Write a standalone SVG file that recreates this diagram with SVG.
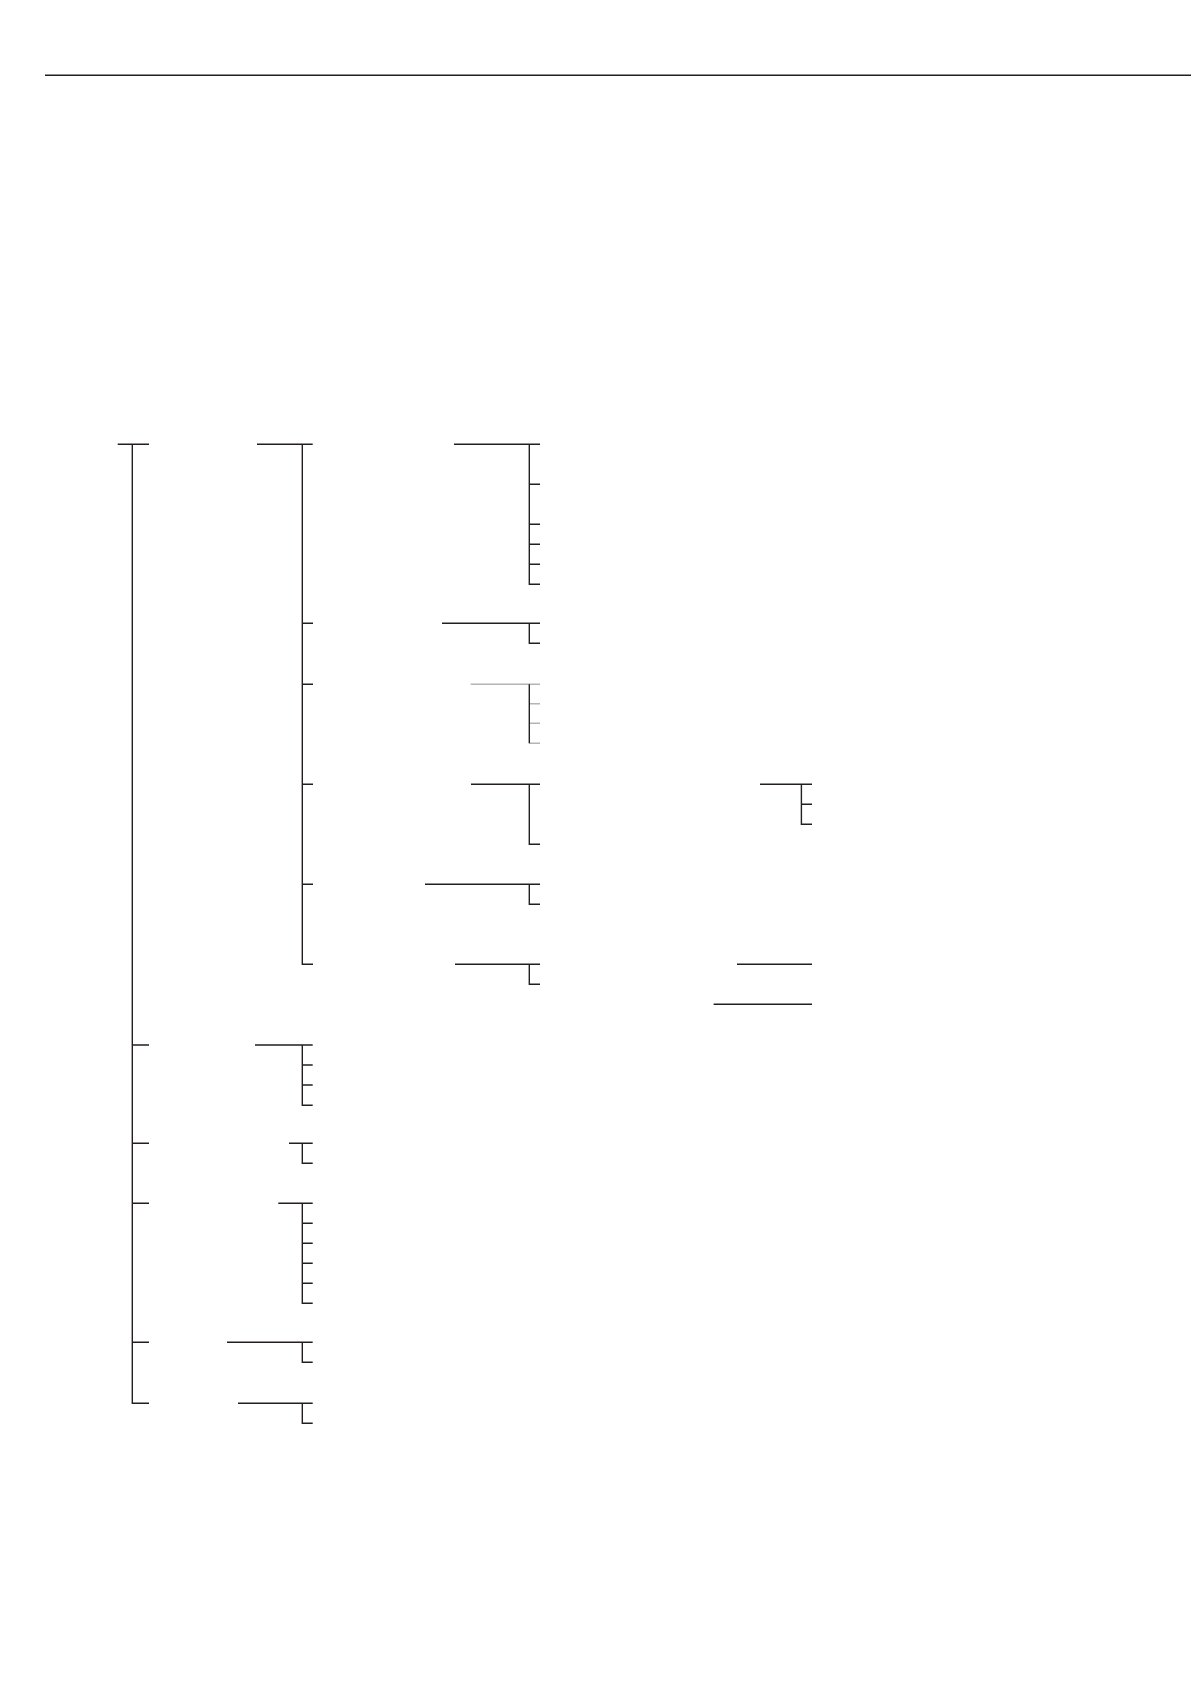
<svg xmlns="http://www.w3.org/2000/svg" width="1191" height="1684" viewBox="0 0 1191 1684">
<style>
.l{stroke:#231f20;stroke-width:1.4;fill:none}
.g{stroke:#b4b4b4;stroke-width:1.4;fill:none}
</style>
<rect width="1191" height="1684" fill="#fff"/>
<g id="header"><line class="l" x1="45" y1="75.2" x2="1191" y2="75.2"/></g>
<g id="connectors">
<path class="l" d="M117.7 444.3H149M132.3 444.3V1403.3H149M132.3 1045H149M132.3 1143.3H149M132.3 1203.3H149M132.3 1342.3H149"/>
<path class="l" d="M257 444.3H312.7M302.3 444.3V964.3H313M302.3 623.3H313M302.3 684.3H313M302.3 784.3H313M302.3 884.3H313"/>
</g>
<g id="node-a1"><path class="l" d="M454 444.3H540M529.3 444.3V584.3H540M529.3 484.3H540M529.3 524.3H540M529.3 544.3H540M529.3 564.3H540"/></g>
<g id="node-a2"><path class="l" d="M442 623.3H540M529.3 623.3V643.3H540"/></g>
<g id="node-a3"><path class="g" d="M470.7 684.3H540M529.3 703.7H540M529.3 723.3H540M529.3 743.3H540"/><path class="l" d="M529.3 684.3V743.3"/></g>
<g id="node-a4"><path class="l" d="M471 784.3H540M529.3 784.3V844.3H540"/></g>
<g id="node-a4b"><path class="l" d="M760 784.3H812M801.4 784.3V824.3H812M801.4 804.3H812"/></g>
<g id="node-a5"><path class="l" d="M425 884.3H540M529.3 884.3V904.3H540"/></g>
<g id="node-a6"><path class="l" d="M455 964.3H540M529.3 964.3V984.3H540"/></g>
<g id="node-a6b"><path class="l" d="M737 964.3H812"/></g>
<g id="node-a6c"><path class="l" d="M713.6 1004.3H812"/></g>
<g id="node-b"><path class="l" d="M255 1045H312.7M302.3 1045V1105.3H312.7M302.3 1065H312.7M302.3 1085H312.7"/></g>
<g id="node-c"><path class="l" d="M289 1143.3H312.7M302.3 1143.3V1163.3H312.7"/></g>
<g id="node-d"><path class="l" d="M278.3 1203.3H312.7M302.3 1203.3V1303.3H312.7M302.3 1223.3H312.7M302.3 1243.3H312.7M302.3 1263.3H312.7M302.3 1283.3H312.7"/></g>
<g id="node-e"><path class="l" d="M227 1342.3H312.7M302.3 1342.3V1362.3H312.7"/></g>
<g id="node-f"><path class="l" d="M238 1403.3H312.7M302.3 1403.3V1423.3H312.7"/></g>
</svg>
